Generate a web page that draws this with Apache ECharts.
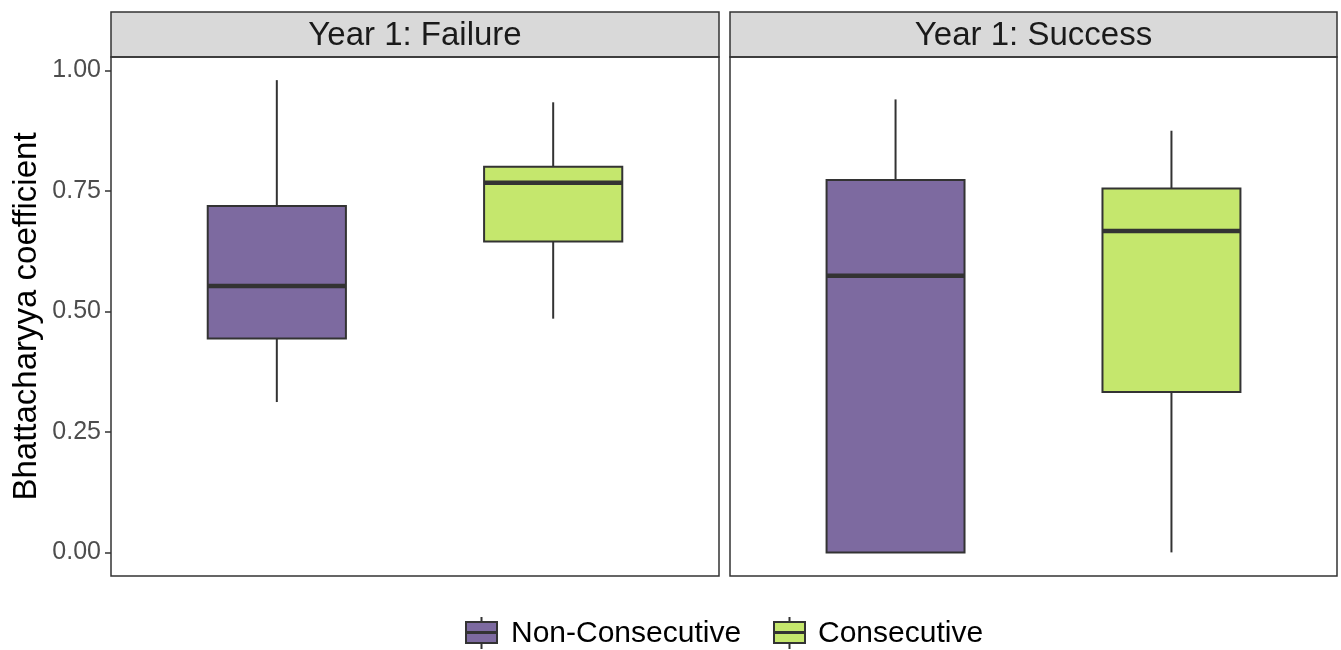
<!DOCTYPE html>
<html>
<head>
<meta charset="utf-8">
<script src="https://cdn.jsdelivr.net/npm/echarts@6/dist/echarts.min.js"></script>
<style>
  html, body { margin: 0; padding: 0; background: #ffffff; }
  #chart { width: 1341px; height: 650px; }
</style>
</head>
<body>
<div id="chart"></div>
<script>
// Facet panels, groups and colours
const panels = ['Year 1: Failure', 'Year 1: Success'];
const groups = ['Non-Consecutive', 'Consecutive'];
const groupColors = ['#7D6AA0', '#C5E76D'];

// Box statistics per group: [lower whisker, Q1, median, Q3, upper whisker]
const failureNonConsecutive = [0.312, 0.444, 0.553, 0.719, 0.980];
const failureConsecutive    = [0.485, 0.645, 0.767, 0.800, 0.934];
const successNonConsecutive = [0.000, 0.000, 0.574, 0.773, 0.940];
const successConsecutive    = [0.000, 0.333, 0.667, 0.755, 0.875];

// Y axis ticks
const yTicks = [0, 0.25, 0.5, 0.75, 1.0];
const yTickLabels = ['0.00', '0.25', '0.50', '0.75', '1.00'];

const panelData = [
  [failureNonConsecutive, failureConsecutive],
  [successNonConsecutive, successConsecutive]
];

const chart = echarts.init(document.getElementById('chart'));
const DARK = '#333333';
const FONT = 'Liberation Sans';
const BOX_HALF = 0.25; // half box width in x units (groups at x = 1, 2)

const grids = [
  { left: 111, top: 57, width: 608, height: 519 },
  { left: 730, top: 57, width: 607, height: 519 }
];

function renderBox(params, api) {
  const x = api.value(0);
  const lo = api.value(1), q1 = api.value(2), med = api.value(3), q3 = api.value(4), hi = api.value(5);
  const gi = api.value(6);
  const pL = api.coord([x - BOX_HALF, q3]);
  const pR = api.coord([x + BOX_HALF, q1]);
  const pC = api.coord([x, med]);
  const pLo = api.coord([x, lo]);
  const pHi = api.coord([x, hi]);
  const pQ1 = api.coord([x, q1]);
  const pQ3 = api.coord([x, q3]);
  return {
    type: 'group',
    children: [
      { type: 'line', shape: { x1: pC[0], y1: pHi[1], x2: pC[0], y2: pQ3[1] },
        style: { stroke: DARK, lineWidth: 2 } },
      { type: 'line', shape: { x1: pC[0], y1: pQ1[1], x2: pC[0], y2: pLo[1] },
        style: { stroke: DARK, lineWidth: 2 } },
      { type: 'rect', shape: { x: pL[0], y: pL[1], width: pR[0] - pL[0], height: pR[1] - pL[1] },
        style: { fill: groupColors[gi], stroke: DARK, lineWidth: 2 } },
      { type: 'line', shape: { x1: pL[0], y1: pC[1], x2: pR[0], y2: pC[1] },
        style: { stroke: DARK, lineWidth: 4.5 } }
    ]
  };
}

const xAxes = grids.map((g, i) => ({
  type: 'value', gridIndex: i, min: 0.4, max: 2.6,
  axisLine: { show: false }, axisTick: { show: false },
  axisLabel: { show: false }, splitLine: { show: false }
}));

const yAxes = grids.map((g, i) => ({
  type: 'value', gridIndex: i, min: -0.049, max: 1.028,
  name: i === 0 ? 'Bhattacharyya coefficient' : '',
  nameLocation: 'middle', nameGap: 68,
  nameTextStyle: { fontSize: 33, color: '#000000', fontFamily: FONT },
  axisLine: { show: false },
  splitLine: { show: false },
  axisTick: { show: i === 0, customValues: yTicks, length: 6, lineStyle: { color: DARK, width: 1.5 } },
  axisLabel: {
    show: i === 0, customValues: yTicks, margin: 10,
    fontSize: 25, color: '#4D4D4D', fontFamily: FONT,
    formatter: v => yTickLabels[yTicks.indexOf(v)] ?? ''
  }
}));

const series = panelData.map((pd, i) => ({
  type: 'custom',
  xAxisIndex: i, yAxisIndex: i,
  renderItem: renderBox,
  encode: { x: 0, y: [1, 2, 3, 4, 5] },
  data: pd.map((s, gi) => [gi + 1, ...s, gi]),
  silent: true
}));

// Strip headers and panel borders
const graphics = [];
grids.forEach((g, i) => {
  graphics.push({
    type: 'rect',
    shape: { x: g.left, y: 12, width: g.width, height: 45 },
    style: { fill: '#D9D9D9', stroke: DARK, lineWidth: 1.5 }, z: 10
  });
  graphics.push({
    type: 'text', x: g.left + g.width / 2, y: 36,
    style: { text: panels[i], fill: '#1A1A1A', fontSize: 33, fontFamily: FONT,
             textAlign: 'center', textVerticalAlign: 'middle' }, z: 11
  });
  graphics.push({
    type: 'rect',
    shape: { x: g.left, y: g.top, width: g.width, height: g.height },
    style: { fill: 'none', stroke: DARK, lineWidth: 1.5 }, z: 10
  });
});

// Legend with boxplot keys
const legendItems = [
  { keyX: 466, textX: 511 },
  { keyX: 774, textX: 818 }
];
legendItems.forEach((it, gi) => {
  const cx = it.keyX + 15.5;
  graphics.push({ type: 'line', shape: { x1: cx, y1: 617, x2: cx, y2: 649 },
                  style: { stroke: DARK, lineWidth: 2 }, z: 10 });
  graphics.push({ type: 'rect', shape: { x: it.keyX, y: 622, width: 31, height: 21 },
                  style: { fill: groupColors[gi], stroke: DARK, lineWidth: 2 }, z: 11 });
  graphics.push({ type: 'line', shape: { x1: it.keyX, y1: 632.5, x2: it.keyX + 31, y2: 632.5 },
                  style: { stroke: DARK, lineWidth: 3 }, z: 12 });
  graphics.push({ type: 'text', x: it.textX, y: 634,
                  style: { text: groups[gi], fill: '#000000', fontSize: 30, fontFamily: FONT,
                           textVerticalAlign: 'middle' }, z: 12 });
});

chart.setOption({
  backgroundColor: '#ffffff',
  animation: false,
  grid: grids,
  xAxis: xAxes,
  yAxis: yAxes,
  series: series,
  graphic: graphics
});
</script>
</body>
</html>
